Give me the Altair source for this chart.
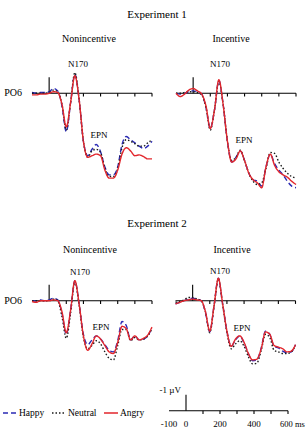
import altair as alt
import pandas as pd

FONT = "Times New Roman, Liberation Serif, serif"

# Sampling times (ms) of every waveform
TIMES = list(range(-100, 601, 25))
CONDITIONS = ["Happy", "Neutral", "Angry"]
COLORS = ["#2a2ab4", "#1a1a1a", "#e2262c"]
DASHES = [[5, 3], [1.5, 2], [1, 0]]

# Grand-average amplitudes at PO6 (µV, plotted negative up)
# Experiment 1, nonincentive
e1_non_happy = [-0.05, 0.0, -0.05, -0.05, -0.1, -0.3, -0.15, 0.8, 2.4, 0.6, -1.2, 0.4, 3.0, 3.9, 3.5,
                3.2, 3.65, 4.6, 5.1, 5.1, 4.6, 3.2, 2.7, 2.9, 3.1, 3.3, 3.45, 3.3, 3.0]
e1_non_neutral = [0.0, 0.0, 0.0, 0.0, -0.05, -0.2, -0.1, 0.7, 2.3, 0.6, -1.3, 0.4, 3.0, 4.0, 3.6,
                  3.5, 3.7, 4.7, 5.2, 5.2, 4.7, 3.4, 2.9, 3.0, 3.15, 3.3, 3.3, 3.1, 2.9]
e1_non_angry = [0.1, 0.1, 0.05, 0.05, 0.0, -0.1, -0.05, 0.7, 2.1, 0.6, -1.1, 0.4, 3.0, 4.0, 3.9,
                3.8, 3.9, 4.8, 5.3, 5.3, 4.8, 3.8, 3.4, 3.6, 3.9, 3.85, 3.95, 4.1, 4.1]

# Experiment 1, incentive
e1_inc_happy = [0.0, 0.05, 0.0, -0.1, -0.15, -0.1, 0.05, 0.9, 2.2, 1.0, -0.8, 0.7, 3.0, 4.3, 4.0,
                3.6, 4.2, 5.0, 5.4, 5.5, 5.8, 4.6, 3.8, 4.4, 4.8, 5.1, 5.5, 5.8, 5.9]
e1_inc_neutral = [0.0, 0.0, -0.05, -0.1, -0.1, -0.05, 0.1, 0.9, 2.3, 1.0, -0.75, 0.7, 3.0, 4.2, 4.0,
                  3.55, 4.2, 5.0, 5.5, 5.7, 5.6, 4.7, 3.7, 3.75, 4.3, 4.7, 5.0, 5.2, 5.3]
e1_inc_angry = [0.0, 0.2, 0.05, -0.2, -0.3, -0.15, 0.05, 0.8, 2.2, 1.0, -0.85, 0.7, 3.0, 4.3, 4.1,
                3.6, 4.2, 5.0, 5.4, 5.6, 5.9, 4.6, 3.8, 4.5, 4.9, 5.1, 5.25, 5.5, 5.7]

# Experiment 2, nonincentive
e2_non_happy = [0.0, 0.0, -0.05, 0.0, -0.05, -0.15, -0.05, 0.8, 2.1, 0.6, -1.25, 0.2, 2.1, 2.75, 2.45,
                2.2, 2.4, 2.75, 3.1, 3.2, 2.5, 1.3, 1.55, 2.45, 2.2, 2.45, 2.4, 2.2, 1.7]
e2_non_neutral = [0.0, 0.0, 0.0, 0.0, 0.0, -0.1, 0.0, 1.0, 2.35, 0.8, -1.2, 0.3, 2.3, 3.0, 2.8,
                  2.5, 2.7, 3.2, 3.6, 3.7, 2.8, 1.8, 1.8, 2.5, 2.3, 2.45, 2.4, 2.2, 1.75]
e2_non_angry = [0.05, 0.1, 0.0, 0.0, 0.0, -0.05, 0.0, 0.7, 2.0, 0.6, -1.25, 0.2, 2.2, 3.1, 2.7,
                2.2, 2.4, 2.8, 3.2, 3.3, 2.6, 1.6, 1.75, 2.45, 2.2, 2.45, 2.35, 2.15, 1.65]

# Experiment 2, incentive
e2_inc_happy = [0.2, 0.1, 0.0, -0.1, -0.15, -0.1, 0.0, 0.75, 1.95, 0.3, -1.4, 0.2, 1.9, 2.85, 2.45,
                2.2, 2.65, 3.3, 3.75, 3.7, 2.95, 1.9, 2.1, 2.85, 2.95, 3.15, 3.25, 3.2, 2.75]
e2_inc_neutral = [0.1, 0.05, -0.05, -0.2, -0.2, -0.1, 0.0, 0.7, 2.0, 0.35, -1.35, 0.25, 2.0, 3.0, 2.7,
                  2.5, 2.85, 3.5, 3.95, 3.9, 3.1, 2.1, 2.3, 3.1, 3.2, 3.3, 3.3, 3.2, 2.8]
e2_inc_angry = [0.2, 0.1, 0.0, -0.05, -0.1, -0.05, 0.0, 0.7, 1.9, 0.3, -1.4, 0.2, 1.9, 2.85, 2.4,
                2.2, 2.6, 3.3, 3.7, 3.65, 3.0, 1.95, 2.1, 2.8, 2.9, 3.0, 3.2, 3.15, 2.75]

# Component labels: (time ms, µV) anchor per panel
N170_POS = [(169, -1.83), (157, -1.83), (180, -1.8), (160, -1.85)]
EPN_POS = [(291, 2.6), (297, 2.9), (303, 1.64), (288, 1.7)]

TICK_TIMES = [100, 200, 300, 400, 500, 600]
SCALE_LABEL_TIMES = [-100, 0, 200, 400]
SCALE_LABELS = ["-100", "0", "200", "400"]

UV_PX = 16  # pixels per microvolt

# Panel frames: pixel span of the -100..600 ms axis and pixel row of the 0 µV line
PANELS = [
    dict(series=(e1_non_happy, e1_non_neutral, e1_non_angry), xr=[32, 152], y0=93.3, site=True),
    dict(series=(e1_inc_happy, e1_inc_neutral, e1_inc_angry), xr=[176, 296], y0=93.3, site=False),
    dict(series=(e2_non_happy, e2_non_neutral, e2_non_angry), xr=[32, 152], y0=300.7, site=True),
    dict(series=(e2_inc_happy, e2_inc_neutral, e2_inc_angry), xr=[175.5, 295.5], y0=300.7, site=False),
]


def xs(rng):
    return alt.Scale(domain=[-100, 600], range=rng, nice=False, zero=False)


def ys(y0):
    return alt.Scale(domain=[0, 1], range=[y0, y0 + UV_PX], nice=False, zero=False)


legend = alt.Legend(
    orient="none", legendX=2, legendY=405, direction="horizontal", title=None,
    symbolType="stroke", symbolSize=196, symbolStrokeWidth=1.5,
    labelFont=FONT, labelFontSize=9.5, labelColor="black", labelOffset=1,
    columnPadding=4, gridAlign="none",
)
color_enc = alt.Color("condition:N", scale=alt.Scale(domain=CONDITIONS, range=COLORS), legend=legend)
dash_enc = alt.StrokeDash("condition:N", scale=alt.Scale(domain=CONDITIONS, range=DASHES), legend=legend)


def axis_frame():
    rows = [dict(t0=-100, t1=600, v0=0, v1=0), dict(t0=0, t1=0, v0=0, v1=-1)]
    rows += [dict(t0=t, t1=t, v0=0, v1=0.2) for t in TICK_TIMES]
    return pd.DataFrame(rows)


def text_layer(df, rng, y0, size, **kw):
    return alt.Chart(df).mark_text(font=FONT, fontSize=size, color="black", baseline="middle", **kw).encode(
        x=alt.X("t:Q", scale=xs(rng), axis=None),
        y=alt.Y("v:Q", scale=ys(y0), axis=None),
        text="label:N",
    )


layers = []
for i, p in enumerate(PANELS):
    rng, y0 = p["xr"], p["y0"]
    rows = []
    for cond, vals in zip(CONDITIONS, p["series"]):
        rows += [dict(time=t, uv=v, condition=cond) for t, v in zip(TIMES, vals)]
    waves = pd.DataFrame(rows)

    layers.append(
        alt.Chart(axis_frame()).mark_rule(color="black", strokeWidth=1.1).encode(
            x=alt.X("t0:Q", scale=xs(rng), axis=None), x2="t1:Q",
            y=alt.Y("v0:Q", scale=ys(y0), axis=None), y2="v1:Q",
        )
    )
    layers.append(
        alt.Chart(waves).mark_line(strokeWidth=1.4, interpolate="monotone").encode(
            x=alt.X("time:Q", scale=xs(rng), axis=None),
            y=alt.Y("uv:Q", scale=ys(y0), axis=None),
            color=color_enc,
            strokeDash=dash_enc,
        )
    )
    comp = pd.DataFrame([
        dict(t=N170_POS[i][0], v=N170_POS[i][1], label="N170"),
        dict(t=EPN_POS[i][0], v=EPN_POS[i][1], label="EPN"),
    ])
    layers.append(text_layer(comp, rng, y0, 9, align="center"))
    if p["site"]:
        site = pd.DataFrame([dict(t=-100, v=0, label="PO6")])
        layers.append(text_layer(site, rng, y0, 10, align="right", dx=-10))

# Calibration bar
CAL_XR, CAL_Y0 = [169, 288], 410.7
layers.append(
    alt.Chart(axis_frame()).mark_rule(color="black", strokeWidth=1.1).encode(
        x=alt.X("t0:Q", scale=xs(CAL_XR), axis=None), x2="t1:Q",
        y=alt.Y("v0:Q", scale=ys(CAL_Y0), axis=None), y2="v1:Q",
    )
)
cal_labels = pd.DataFrame(dict(t=SCALE_LABEL_TIMES, v=[0.85] * len(SCALE_LABELS), label=SCALE_LABELS))
layers.append(text_layer(cal_labels, CAL_XR, CAL_Y0, 9, align="center"))
layers.append(text_layer(pd.DataFrame([dict(t=600, v=0.85, label="600 ms")]), CAL_XR, CAL_Y0, 8.5,
                         align="left", dx=-8))
layers.append(text_layer(pd.DataFrame([dict(t=0, v=-1.3, label="-1 µV")]), CAL_XR, CAL_Y0, 9,
                         align="right", dx=-5))

# Experiment and condition headings
HEADINGS = [
    ("Experiment 1", 157, 15, 11), ("Nonincentive", 89, 39, 10), ("Incentive", 231, 39, 10),
    ("Experiment 2", 157, 224, 11), ("Nonincentive", 90, 250, 10), ("Incentive", 232, 250, 10),
]
for text, hx, hy, size in HEADINGS:
    layers.append(
        alt.Chart(pd.DataFrame({"label": [text]})).mark_text(
            font=FONT, fontSize=size, color="black", baseline="middle", align="center"
        ).encode(text="label:N", x=alt.value(hx), y=alt.value(hy))
    )

chart = (
    alt.layer(*layers)
    .resolve_scale(x="independent", y="independent")
    .properties(width=307, height=446, autosize=alt.AutoSizeParams(type="none"), padding=0,
                background="white")
    .configure_view(stroke=None)
)

chart.save("out.html", embed_options={"renderer": "svg", "actions": False})
